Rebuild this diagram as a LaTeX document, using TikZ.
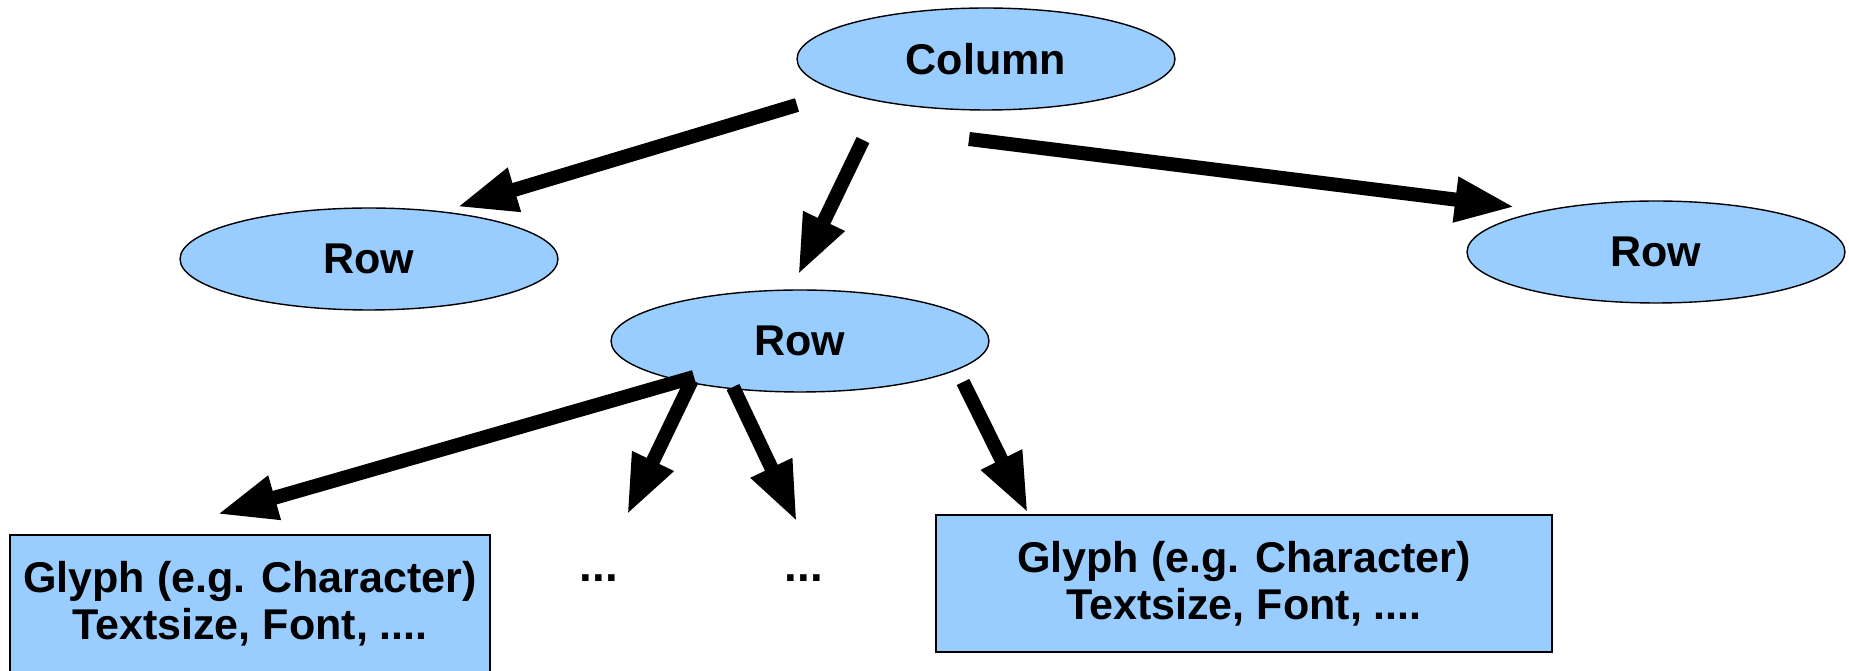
\documentclass[tikz,border=0pt]{standalone}
\usepackage{fontspec}
\setmainfont{Liberation Sans}
\usetikzlibrary{arrows.meta,shapes,calc}
\definecolor{skyfill}{RGB}{153,204,255}
\tikzstyle{oval}=[ellipse,draw=black,fill=skyfill,line width=0.8pt,minimum width=7.56cm,minimum height=2.04cm,font=\bfseries\fontsize{24.5}{27}\selectfont]
\tikzstyle{gbox}=[rectangle,draw=black,fill=skyfill,line width=0.8pt,align=center,minimum height=2.74cm,font=\bfseries\fontsize{24.5}{26.7}\selectfont]
\tikzstyle{fat}=[-{Triangle[length=1.2cm,width=0.84cm]}, line width=8pt]

\begin{document}
\begin{tikzpicture}[x=0.02cm,y=-0.02cm]
\useasboundingbox (0,0) rectangle (1849,671);
\node[oval] (col) at (986,59) {Column};
\node[oval] (rowL) at (369,259) {Row};
\node[oval] (rowM) at (800,341) {Row};
\node[oval] (rowR) at (1656,252) {Row};
\node[gbox,minimum width=9.6cm] (glyphL) at (250,603.5) {Glyph (e.g. Character)\\Textsize, Font, ....};
\node[gbox,minimum width=12.32cm] (glyphR) at (1244,583.5) {Glyph (e.g. Character)\\Textsize, Font, ....};
\node[font=\bfseries\fontsize{26}{27}\selectfont] (dotsA) at (599,578) {...};
\node[font=\bfseries\fontsize{26}{27}\selectfont] (dotsB) at (804,578) {...};
\draw[fat] ($(col)+(-189,46)$) -- ($(rowL)+(88,-52)$);
\draw[fat] ($(col)+(-123,81)$) -- ($(rowM)+(-2,-66)$);
\draw[fat] ($(col)+(-17,80)$) -- ($(rowR)+(-141,-45)$);
\draw[fat] ($(rowM)+(-106,36)$) -- ($(glyphL.north)+(-33,-20)$);
\draw[fat] ($(rowM)+(-108,39)$) -- ($(dotsA)+(28,-63)$);
\draw[fat] ($(rowM)+(-67,46)$) -- ($(dotsB)+(-7,-56)$);
\draw[fat] ($(rowM)+(163,41)$) -- ($(glyphR.north)+(-216,-1)$);
\end{tikzpicture}
\end{document}
